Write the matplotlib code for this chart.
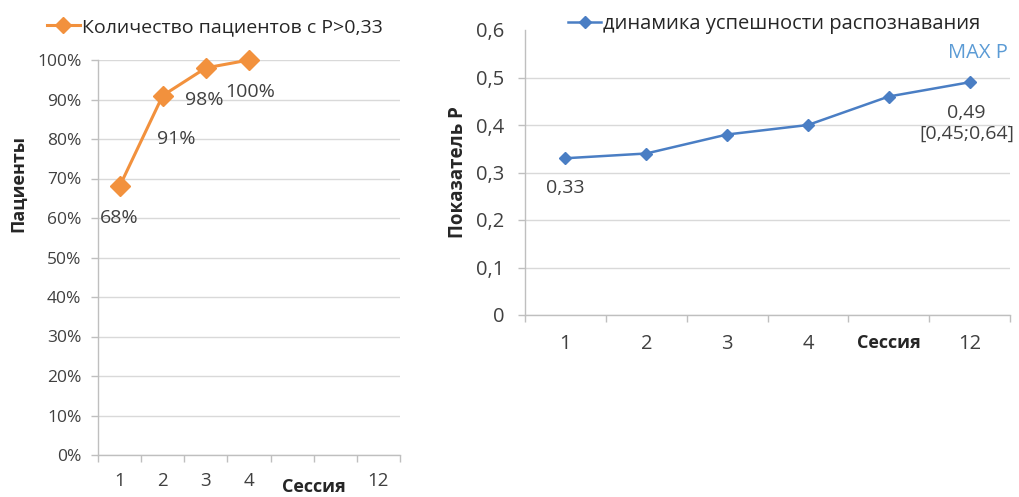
import numpy as np
import matplotlib
matplotlib.use('Agg')
from matplotlib import pyplot as plt

plt.rcParams['font.family'] = ['Open Sans', 'DejaVu Sans']

# left chart: share of patients with P > 0.33 per session
left_sessions = ['1', '2', '3', '4', '', '', '12']
left_share = [0.68, 0.91, 0.98, 1.00]
left_labels = ['68%', '91%', '98%', '100%']

# right chart: recognition success per session
right_sessions = ['1', '2', '3', '4', 'Сессия', '12']
right_p = [0.33, 0.34, 0.38, 0.40, 0.46, 0.49]
p_range = '[0,45;0,64]'

W, H = 1019, 497
ORANGE = '#F2913D'
BLUE = '#4A7EC4'
TEXT = '#404040'
DARK = '#262626'
GRID = '#D9D9D9'
AXIS = '#BFBFBF'


def px_box(x0, y0, x1, y1):
    # pixel box (top-left origin) -> figure fraction rect
    return [x0 / W, 1 - y1 / H, (x1 - x0) / W, (y1 - y0) / H]


def style_axes(ax, n, xsize, ysize, xpad, ypad):
    ax.set_xlim(-0.5, n - 0.5)
    ax.set_xticks(np.arange(n))
    ax.set_xticks(np.arange(n + 1) - 0.5, minor=True)
    ax.tick_params(axis='x', which='major', length=0, pad=xpad,
                   labelsize=xsize, labelcolor=TEXT)
    ax.tick_params(axis='x', which='minor', length=5, width=1, color=AXIS)
    ax.tick_params(axis='y', length=5, width=1, color=AXIS, pad=ypad,
                   labelsize=ysize, labelcolor=TEXT)
    ax.grid(axis='y', color=GRID, lw=1)
    ax.set_axisbelow(True)
    for side in ['top', 'right']:
        ax.spines[side].set_visible(False)
    for side in ['left', 'bottom']:
        ax.spines[side].set_color(AXIS)
        ax.spines[side].set_linewidth(1)


fig = plt.figure(figsize=(W / 100, H / 100), dpi=100)

# ---- left chart
ax1 = fig.add_axes(px_box(98, 60, 400, 455))
style_axes(ax1, len(left_sessions), 13.5, 12.5, 12, 7)
ax1.set_ylim(0, 1)
ax1.set_yticks(np.arange(0, 1.01, 0.1))
ax1.set_yticklabels(['{:.0f}%'.format(v * 100) for v in np.arange(0, 1.01, 0.1)])
ax1.set_xticklabels(left_sessions)
ax1.plot(range(len(left_share)), left_share, color=ORANGE, lw=2.2,
         marker='D', ms=10, clip_on=False, label='Количество пациентов с P>0,33')
offsets1 = [(0, -32), (14, -43), (-2, -32), (1, -32)]
for i, (v, t) in enumerate(zip(left_share, left_labels)):
    ax1.annotate(t, (i, v), xytext=offsets1[i], textcoords='offset pixels',
                 ha='center', va='center', fontsize=14, color=TEXT)
ax1.text(4.5, -0.08, 'Сессия', ha='center', va='center', fontsize=13,
         fontweight='bold', color=DARK, transform=ax1.transData, clip_on=False)
ax1.legend(loc='center left', bbox_to_anchor=(37 / W, 1 - 27 / H),
           bbox_transform=fig.transFigure, frameon=False, fontsize=14,
           handlelength=1.7, handletextpad=0.1, borderpad=0, markerscale=0.8,
           labelcolor=DARK)
fig.text(18 / W, 1 - 183 / H, 'Пациенты', rotation=90, ha='center', va='center',
         fontsize=13, fontweight='bold', color=DARK)

# ---- right chart
ax2 = fig.add_axes(px_box(525, 30, 1010, 315))
style_axes(ax2, len(right_sessions), 14.5, 14.5, 14, 10)
ax2.set_ylim(0, 0.6)
ax2.set_yticks(np.arange(0, 0.61, 0.1))
ax2.set_yticklabels(['0'] + ['0,{}'.format(k) for k in range(1, 7)])
# top gridline and tick sit under the legend
ax2.yaxis.get_major_ticks()[-1].gridline.set_visible(False)
ax2.yaxis.get_major_ticks()[-1].tick1line.set_visible(False)
ax2.set_xticklabels(right_sessions)
ax2.get_xticklabels()[4].set_fontweight('bold')
ax2.get_xticklabels()[4].set_fontsize(13)
ax2.get_xticklabels()[4].set_color(DARK)
ax2.plot(range(len(right_p)), right_p, color=BLUE, lw=1.8, marker='D', ms=6.5,
         clip_on=False, label='динамика успешности распознавания')
ax2.annotate('{:.2f}'.format(right_p[0]).replace('.', ','), (0, right_p[0]),
             xytext=(0, -30), textcoords='offset pixels', ha='center', va='center',
             fontsize=14, color=TEXT)
last = len(right_p) - 1
ax2.annotate('{:.2f}'.format(right_p[last]).replace('.', ',') + '\n' + p_range,
             (last, right_p[last]), xytext=(-3, -41), textcoords='offset pixels',
             ha='center', va='center', fontsize=14, color=TEXT, linespacing=1.2,
             annotation_clip=False)
fig.text(978 / W, 1 - 53 / H, 'MAX P', ha='center', va='center', fontsize=14.5,
         color='#5B9BD5')
leg = ax2.legend(loc='center left', bbox_to_anchor=(552 / W, 1 - 24 / H),
                 bbox_transform=fig.transFigure, frameon=True, fontsize=14.5,
                 handlelength=1.65, handletextpad=0.1, borderpad=0.3,
                 labelcolor=DARK, fancybox=False)
leg.get_frame().set_facecolor('white')
leg.get_frame().set_edgecolor('none')
leg.get_frame().set_alpha(1)
fig.text(458 / W, 1 - 172 / H, 'Показатель Р', rotation=90, ha='center', va='center',
         fontsize=13.5, fontweight='bold', color=DARK)

fig.savefig('out.png', dpi=100)
